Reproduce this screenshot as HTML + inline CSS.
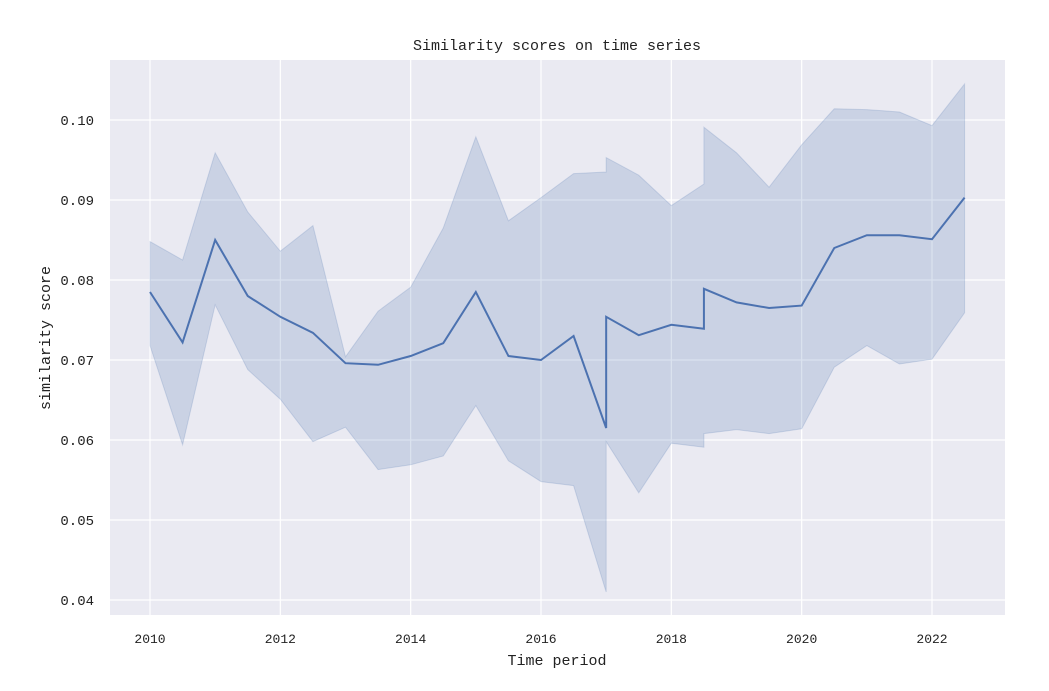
<!DOCTYPE html>
<html><head><meta charset="utf-8"><style>
body{margin:0;background:#fff;}
svg text{font-family:"Liberation Mono","DejaVu Sans Mono",monospace;fill:#222;}
</style></head><body>
<svg id="chart" width="1049" height="686" xmlns="http://www.w3.org/2000/svg">
<rect x="110" y="60" width="895" height="555" fill="#eaeaf2"/>
<g id="grid"></g>
<g id="marks"></g>
<g id="ticks"></g>
<text x="557" y="50" text-anchor="middle" font-size="15">Similarity scores on time series</text>
<text x="557" y="665" text-anchor="middle" font-size="15">Time period</text>
<text x="50" y="338" text-anchor="middle" font-size="15" transform="rotate(-90 50 338)">similarity score</text>
</svg>
<script>
const periods=[2010,2010.5,2011,2011.5,2012,2012.5,2013,2013.5,2014,2014.5,2015,2015.5,2016,2016.5,2017,2017,2017.5,2018,2018.5,2018.5,2019,2019.5,2020,2020.5,2021,2021.5,2022,2022.5];
const meanScores=[0.0785,0.0722,0.085,0.078,0.0754,0.0734,0.0696,0.0694,0.0705,0.0721,0.0785,0.0705,0.070,0.073,0.0615,0.0754,0.0731,0.0744,0.0739,0.0789,0.0772,0.0765,0.0768,0.084,0.0856,0.0856,0.0851,0.0903];
const upperBand=[0.0848,0.0825,0.0959,0.0885,0.0836,0.0868,0.0704,0.0761,0.0791,0.0865,0.0979,0.0874,0.0903,0.0933,0.0935,0.0953,0.0931,0.0893,0.092,0.0991,0.0959,0.0916,0.0969,0.1014,0.1013,0.101,0.0993,0.1045];
const lowerBand=[0.0718,0.0594,0.0769,0.0688,0.0651,0.0598,0.0616,0.0563,0.0569,0.058,0.0643,0.0574,0.0548,0.0543,0.041,0.0598,0.0534,0.0596,0.0591,0.0608,0.0613,0.0608,0.0614,0.0691,0.0718,0.0695,0.0701,0.0759];
const xTicks=[2010,2012,2014,2016,2018,2020,2022];
const yTicks=[0.04,0.05,0.06,0.07,0.08,0.09,0.10];
const yTickLabels=["0.04","0.05","0.06","0.07","0.08","0.09","0.10"];

const NS="http://www.w3.org/2000/svg";
const X=v=>150+(v-2010)*(932-150)/12;
const Y=v=>600-(v-0.04)*8000;
function mk(tag,attrs,parent){const e=document.createElementNS(NS,tag);for(const k in attrs)e.setAttribute(k,attrs[k]);document.getElementById(parent).appendChild(e);return e;}

xTicks.forEach(t=>{
  const l=mk('line',{x1:X(t),x2:X(t),y1:60,y2:615,stroke:'#fff','stroke-width':1.2},'grid');
  
  
  const tx=mk('text',{x:X(t),y:643,'text-anchor':'middle','font-size':13},'ticks');
  tx.textContent=t;
  
  
});
yTicks.forEach((t,i)=>{
  const l=mk('line',{x1:110,x2:1005,y1:Y(t),y2:Y(t),stroke:'#fff','stroke-width':1.2},'grid');
  
  
  const tx=mk('text',{x:94,y:Y(t)+5,'text-anchor':'end','font-size':14},'ticks');
  tx.textContent=yTickLabels[i];
  
  
});
let d='';
periods.forEach((p,i)=>{d+=(i?'L':'M')+X(p)+','+Y(upperBand[i]);});
for(let i=periods.length-1;i>=0;i--)d+='L'+X(periods[i])+','+Y(lowerBand[i]);
d+='Z';
const band=mk('path',{d:d,fill:'#4c72b0','fill-opacity':0.2,stroke:'#4c72b0','stroke-opacity':0.2},'marks');


let m='';
periods.forEach((p,i)=>{m+=(i?'L':'M')+X(p)+','+Y(meanScores[i]);});
const line=mk('path',{d:m,fill:'none',stroke:'#4c72b0','stroke-width':2},'marks');


</script>
</body></html>
